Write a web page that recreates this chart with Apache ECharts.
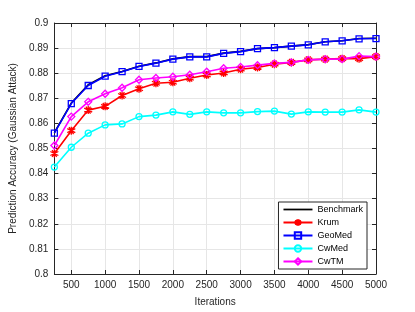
<!DOCTYPE html>
<html><head><meta charset="utf-8">
<script src="https://cdn.jsdelivr.net/npm/echarts@6/dist/echarts.min.js"></script>
<style>html,body{margin:0;padding:0;background:#fff}#c{width:415px;height:312px}</style>
</head><body><div id="c"></div>
<script>
const iterations = [250,500,750,1000,1250,1500,1750,2000,2250,2500,2750,3000,3250,3500,3750,4000,4250,4500,4750,5000];
const benchmark = [0.8563,0.8681,0.8754,0.8790,0.8807,0.8828,0.8841,0.8857,0.8866,0.8866,0.8880,0.8887,0.8898,0.8902,0.8908,0.8914,0.8925,0.8929,0.8938,0.8939];
const krum      = [0.8480,0.8571,0.8653,0.8668,0.8711,0.8738,0.8760,0.8764,0.8780,0.8793,0.8801,0.8816,0.8823,0.8836,0.8843,0.8853,0.8856,0.8858,0.8858,0.8866];
const geomed    = [0.8561,0.8679,0.8751,0.8788,0.8806,0.8827,0.8840,0.8856,0.8865,0.8865,0.8879,0.8886,0.8898,0.8902,0.8908,0.8913,0.8925,0.8929,0.8937,0.8938];
const cwmed     = [0.8426,0.8505,0.8561,0.8594,0.8598,0.8627,0.8633,0.8646,0.8636,0.8646,0.8642,0.8642,0.8647,0.8649,0.8637,0.8646,0.8645,0.8645,0.8654,0.8645];
const cwtm      = [0.8512,0.8627,0.8686,0.8718,0.8742,0.8774,0.8781,0.8786,0.8794,0.8806,0.8820,0.8825,0.8832,0.8839,0.8843,0.8853,0.8856,0.8856,0.8868,0.8866];
const xTicks = [500,1000,1500,2000,2500,3000,3500,4000,4500,5000];
const yTicks = [0.8,0.81,0.82,0.83,0.84,0.85,0.86,0.87,0.88,0.89,0.9];

const pair = a => iterations.map((x,i)=>[x,a[i]]);
const font = 'Liberation Sans, Arial, sans-serif';
const axCol = '#262626';
const chart = echarts.init(document.getElementById('c'));
const star = 'path://M0,-5L0,5M-4.33,-2.5L4.33,2.5M-4.33,2.5L4.33,-2.5M-2.5,-4.33L2.5,4.33M-2.5,4.33L2.5,-4.33';
function s(name, data, color, symbol, size, fill){
  return {name, type:'line', data:pair(data), symbol: symbol||'none', symbolSize:size||6,
    showSymbol: !!symbol,
    lineStyle:{color, width:1.6},
    itemStyle:{color: fill||color, borderColor:color, borderWidth:1.3},
    emphasis:{disabled:true}, animation:false};
}
chart.setOption({
  animation:false,
  grid:{left:54,right:39,top:23,bottom:34},
  xAxis:[{type:'value',min:250,max:5000,
    name:'Iterations',nameLocation:'middle',nameGap:23,
    nameTextStyle:{fontFamily:font,fontSize:10,color:axCol},
    axisLine:{show:true,lineStyle:{color:axCol,width:1}},
    axisTick:{show:true,inside:true,length:4,customValues:xTicks,lineStyle:{color:axCol}},
    axisLabel:{customValues:xTicks,fontFamily:font,fontSize:10,color:axCol,margin:6,formatter:v=>String(v)},
    splitLine:{show:true,lineStyle:{color:'#e6e6e6',width:1}}},
    {type:'value',min:250,max:5000,position:'top',
    axisLine:{show:true,onZero:false,lineStyle:{color:axCol,width:1}},
    axisTick:{show:true,inside:true,length:4,customValues:xTicks,lineStyle:{color:axCol}},
    axisLabel:{show:false},splitLine:{show:false}}],
  yAxis:[{type:'value',min:0.8,max:0.9,interval:0.01,
    name:'Prediction Accuracy (Gaussian Attack)',nameLocation:'middle',nameGap:36,
    nameTextStyle:{fontFamily:font,fontSize:10,color:axCol},
    axisLine:{show:true,lineStyle:{color:axCol,width:1}},
    axisTick:{show:true,inside:true,length:4,lineStyle:{color:axCol}},
    axisLabel:{fontFamily:font,fontSize:10,color:axCol,margin:6,formatter:v=>String(+v.toFixed(2))},
    splitLine:{show:true,lineStyle:{color:'#e6e6e6',width:1}}},
    {type:'value',min:0.8,max:0.9,interval:0.01,position:'right',
    axisLine:{show:true,onZero:false,lineStyle:{color:axCol,width:1}},
    axisTick:{show:true,inside:true,length:4,lineStyle:{color:axCol}},
    axisLabel:{show:false},splitLine:{show:false}}],
  legend:{orient:'vertical',right:48,bottom:43,itemWidth:29,itemHeight:8,itemGap:4,
    backgroundColor:'#fff',borderColor:axCol,borderWidth:1,borderRadius:0,padding:[3,4,3,4],
    textStyle:{fontFamily:font,fontSize:9,color:'#000'},
    data:[{name:'Benchmark',icon:'path://M0,3.1L30,3.1L30,4.9L0,4.9Z',itemStyle:{borderWidth:0}},'Krum','GeoMed','CwMed','CwTM']},
  series:[
    s('Benchmark',benchmark,'#000000'),
    s('Krum',krum,'#ff0000',star,8),
    s('GeoMed',geomed,'#0000ff','rect',6,'rgba(0,0,0,0)'),
    s('CwMed',cwmed,'#00ffff','circle',6,'rgba(0,0,0,0)'),
    s('CwTM',cwtm,'#ff00ff','diamond',7,'rgba(0,0,0,0)')
  ]
});
</script></body></html>
